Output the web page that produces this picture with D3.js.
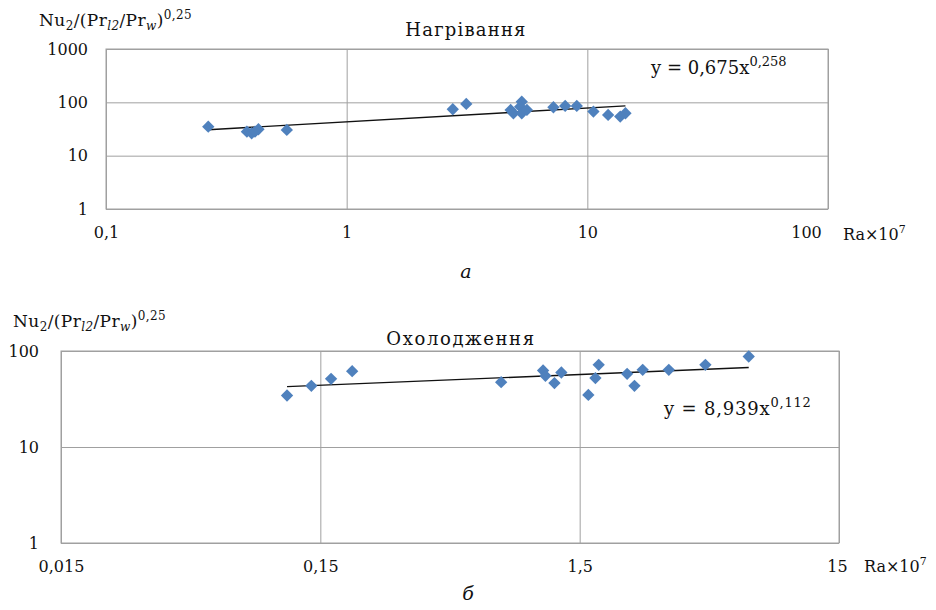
<!DOCTYPE html>
<html>
<head>
<meta charset="utf-8">
<script src="https://cdn.jsdelivr.net/npm/d3@7"></script>
<style>
  body { margin: 0; background: #fff; }
  svg { display: block; }
  .tick line { stroke: #a0a0a0; }
  .tick text { fill: #111; }
</style>
</head>
<body>
<div id="root"></div>
<script>
// heating (Нагрівання): Ra x 10^7 vs Nu2/(Prl2/Prw)^0.25
var heatRa = [0.266, 0.385, 0.403, 0.416, 0.43, 0.564, 2.76, 3.14, 5.34, 5.26, 4.93, 5.34, 5.61, 4.8, 7.23, 8.09, 9.04, 10.6, 12.2, 13.7, 14.4];
var heatNu = [35.0, 28.2, 26.3, 28.2, 31.3, 30.4, 74.2, 93.3, 103, 83, 62.4, 62.4, 72, 72, 80.9, 85.6, 85.6, 67, 58, 54, 62.4];
var heatFit = [0.675, 0.258];
var heatTicksX = [0.1, 1, 10, 100];
var heatTickLabelsX = ["0,1", "1", "10", "100"];
var heatTicksY = [1, 10, 100, 1000];
var heatTickLabelsY = ["1", "10", "100", "1000"];

// cooling (Охолодження)
var coolRa = [0.1116, 0.1385, 0.165, 0.199, 0.747, 1.084, 1.107, 1.199, 1.275, 1.62, 1.725, 1.776, 2.286, 2.44, 2.625, 3.31, 4.58, 6.73];
var coolNu = [34.4, 43.4, 51.3, 61.7, 47.4, 62.6, 55.1, 46.3, 59.7, 34.9, 52.2, 71.8, 57.8, 43.4, 63.7, 63.7, 71.8, 87.7];
var coolFit = [8.939, 0.112];
var coolTicksX = [0.015, 0.15, 1.5, 15];
var coolTickLabelsX = ["0,015", "0,15", "1,5", "15"];
var coolTicksY = [1, 10, 100];
var coolTickLabelsY = ["1", "10", "100"];

var W = 936, H = 610;
var FONT = "'DejaVu Serif', 'Liberation Serif', serif";
var BLUE = "#4f81bd";

var svg = d3.select("#root").append("svg")
    .attr("width", W)
    .attr("height", H)
    .style("font-family", FONT);

function yTitle(g, x, y) {
    var t = g.append("text")
        .attr("x", x).attr("y", y)
        .attr("font-size", 17)
        .attr("letter-spacing", 0.4)
        .attr("fill", "#111");
    t.append("tspan").text("Nu");
    t.append("tspan").attr("dy", 4).attr("font-size", 12).text("2");
    t.append("tspan").attr("dy", -4).text("/(Pr");
    t.append("tspan").attr("dy", 4).attr("font-size", 12).attr("font-style", "italic").text("l2");
    t.append("tspan").attr("dy", -4).text("/Pr");
    t.append("tspan").attr("dy", 4).attr("font-size", 12).attr("font-style", "italic").text("w");
    t.append("tspan").attr("dy", -4).text(")");
    t.append("tspan").attr("dy", -7).attr("font-size", 12).text("0,25");
}

function drawPanel(config) {
    var g = svg.append("g");
    var x = d3.scaleLog().domain(config.xDomain).range([config.left, config.right]);
    var y = d3.scaleLog().domain(config.yDomain).range([config.bottom, config.top]);
    var w = config.right - config.left;
    var h = config.bottom - config.top;

    // gridlines + y labels
    var ay = g.append("g")
        .attr("transform", "translate(" + config.left + ",0)")
        .call(d3.axisLeft(y).tickValues(config.ticksY)
            .tickFormat(function (d, i) { return config.labelsY[i]; })
            .tickSize(-w).tickPadding(config.yPad));
    ay.select(".domain").remove();
    ay.selectAll("text").attr("font-size", 16).attr("font-family", FONT);

    var ax = g.append("g")
        .attr("transform", "translate(0," + config.bottom + ")")
        .call(d3.axisBottom(x).tickValues(config.ticksX)
            .tickFormat(function (d, i) { return config.labelsX[i]; })
            .tickSize(-h).tickPadding(config.xPad));
    ax.select(".domain").remove();
    ax.selectAll("text").attr("font-size", 16).attr("font-family", FONT)
        .attr("dx", function (d, i) { return i === config.ticksX.length - 1 ? config.lastShift : 0; });

    g.append("rect")
        .attr("x", config.left).attr("y", config.top)
        .attr("width", w).attr("height", h)
        .attr("fill", "none").attr("stroke", "#a0a0a0");

    // trend line y = a * (Ra)^b, Ra = x * 1e7
    var ext = d3.extent(config.ra);
    var fit = config.fit;
    var trend = ext.map(function (v) { return [v, fit[0] * Math.pow(v * 1e7, fit[1])]; });
    g.append("path")
        .datum(trend)
        .attr("fill", "none")
        .attr("stroke", "#111")
        .attr("stroke-width", 1.4)
        .attr("d", d3.line().x(function (d) { return x(d[0]); }).y(function (d) { return y(d[1]); }));

    var sym = d3.symbol().type(d3.symbolSquare).size(76);
    g.selectAll(".pt")
        .data(config.ra.map(function (v, i) { return [v, config.nu[i]]; }))
        .enter().append("path")
        .attr("class", "pt")
        .attr("fill", BLUE)
        .attr("d", sym)
        .attr("transform", function (d) {
            return "translate(" + x(d[0]) + "," + y(d[1]) + ") rotate(45)";
        });

    // titles
    g.append("text")
        .attr("x", config.titleX).attr("y", config.titleY)
        .attr("text-anchor", "middle")
        .attr("font-size", 18).attr("letter-spacing", config.titleSpacing)
        .attr("fill", "#111")
        .text(config.title);

    var eq = g.append("text")
        .attr("x", config.eqX).attr("y", config.eqY)
        .attr("font-size", 18).attr("letter-spacing", config.eqSpacing)
        .attr("fill", "#111");
    eq.append("tspan").text(config.eq);
    eq.append("tspan").attr("dy", -8).attr("font-size", 13).text(config.eqPow);

    var rl = g.append("text")
        .attr("x", config.raX).attr("y", config.raY)
        .attr("font-size", 16).attr("fill", "#111");
    rl.append("tspan").text("Ra×10");
    rl.append("tspan").attr("dy", -7).attr("font-size", 11).text("7");

    yTitle(g, config.ytX, config.ytY);

    g.append("text")
        .attr("x", config.capX).attr("y", config.capY)
        .attr("text-anchor", "middle")
        .attr("font-size", 19).attr("font-style", "italic")
        .attr("fill", "#111")
        .text(config.caption);
}

drawPanel({
    left: 106, right: 828, top: 49, bottom: 209,
    xDomain: [0.1, 100], yDomain: [1, 1000],
    ticksX: heatTicksX, labelsX: heatTickLabelsX,
    ticksY: heatTicksY, labelsY: heatTickLabelsY,
    yPad: 18, xPad: 18, lastShift: -22,
    ra: heatRa, nu: heatNu, fit: heatFit,
    title: "Нагрівання", titleX: 466, titleY: 36, titleSpacing: 1.2,
    eq: "y = 0,675x", eqPow: "0,258", eqX: 651, eqY: 74, eqSpacing: 0,
    raX: 843, raY: 240,
    ytX: 39, ytY: 26,
    caption: "а", capX: 466, capY: 278
});

drawPanel({
    left: 61, right: 839, top: 351, bottom: 543,
    xDomain: [0.015, 15], yDomain: [1, 100],
    ticksX: coolTicksX, labelsX: coolTickLabelsX,
    ticksY: coolTicksY, labelsY: coolTickLabelsY,
    yPad: 22, xPad: 18, lastShift: -2,
    ra: coolRa, nu: coolNu, fit: coolFit,
    title: "Охолодження", titleX: 461, titleY: 345, titleSpacing: 1.6,
    eq: "y = 8,939x", eqPow: "0,112", eqX: 664, eqY: 415, eqSpacing: 0.8,
    raX: 864, raY: 572,
    ytX: 13, ytY: 327,
    caption: "б", capX: 468, capY: 600
});
</script>
</body>
</html>
